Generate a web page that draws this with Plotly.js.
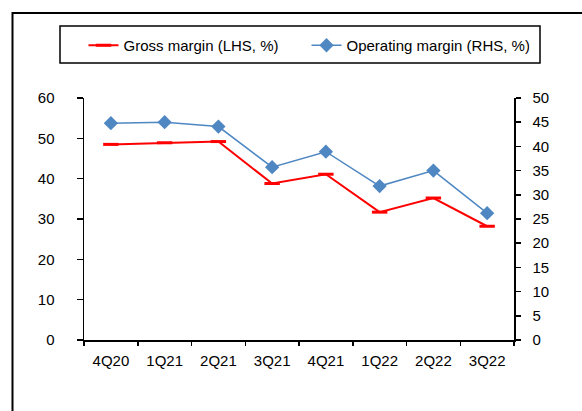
<!DOCTYPE html>
<html><head><meta charset="utf-8">
<script src="https://cdn.plot.ly/plotly-3.0.1.min.js"></script>
<style>html,body{margin:0;padding:0;background:#fff}#chart{width:582px;height:411px}</style>
</head><body><div id="chart"></div>
<script>
const categories = ["4Q20","1Q21","2Q21","3Q21","4Q21","1Q22","2Q22","3Q22"];
const grossMargin = [48.5, 48.9, 49.2, 38.8, 41.1, 31.7, 35.2, 28.2];
const operatingMargin = [44.8, 45.0, 44.1, 35.7, 38.9, 31.8, 35.0, 26.2];
const leftTicks = [0,10,20,30,40,50,60];
const rightTicks = [0,5,10,15,20,25,30,35,40,45,50];

const font = {family: "Liberation Sans, Arial, sans-serif", size: 15, color: "#000"};
const traces = [
  {x: categories, y: grossMargin, name: "Gross margin (LHS, %)", type: "scatter", mode: "lines+markers",
   line: {color: "#ff0000", width: 2}, marker: {symbol: "line-ew", size: 11, line: {color: "#ff0000", width: 3}},
   xaxis: "x", yaxis: "y"},
  {x: categories, y: operatingMargin, name: "Operating margin (RHS, %)", type: "scatter", mode: "lines+markers",
   line: {color: "#4f87c2", width: 1.5}, marker: {symbol: "diamond", size: 11, color: "#4f87c2"},
   xaxis: "x", yaxis: "y2"}
];
const pw = 430, ph = 242;
const px = v => (v - 84) / pw, py = v => (340 - v) / ph;
const layout = {
  width: 582, height: 411,
  margin: {l: 84, r: 68, t: 98, b: 71},
  paper_bgcolor: "#fff", plot_bgcolor: "#fff",
  font: font, showlegend: true,
  legend: {orientation: "h", x: px(83.5), xanchor: "left", y: py(29), yanchor: "top",
           bgcolor: "rgba(0,0,0,0)", font: font, entrywidth: 178, entrywidthmode: "pixels"},
  xaxis: {type: "category", categoryarray: categories, range: [-0.5, 7.5], tickson: "boundaries",
          ticks: "outside", ticklen: 4, tickwidth: 1.5, tickcolor: "#000", ticklabelstandoff: 6,
          showline: true, linecolor: "#000", linewidth: 1.5, showgrid: false, zeroline: false,
          tickfont: font, anchor: "y"},
  xaxis2: {overlaying: "x", anchor: "y", type: "linear", range: [-0.5, 7.5], tick0: -0.5, dtick: 1,
           ticks: "inside", ticklen: 7, tickwidth: 1.5, tickcolor: "#000", showticklabels: false,
           showline: false, showgrid: false, zeroline: false},
  xaxis3: {overlaying: "x", anchor: "y", side: "top", type: "linear", range: [-0.5, 7.5],
           ticks: "", showticklabels: false, showline: true, linecolor: "#888", linewidth: 1,
           showgrid: false, zeroline: false},
  yaxis: {range: [0, 60], tickvals: leftTicks, ticks: "outside", ticklen: 6, tickwidth: 1.5, tickcolor: "#000",
          ticklabelstandoff: 19,
          showline: true, linecolor: "#000", linewidth: 1.5, showgrid: false, zeroline: false,
          tickfont: font, anchor: "x"},
  yaxis2: {overlaying: "y", side: "right", range: [0, 50], tickvals: rightTicks, ticks: "outside", ticklen: 5,
           tickwidth: 1.5, tickcolor: "#000", ticklabelstandoff: 9, showline: true, linecolor: "#000", linewidth: 1.5,
           showgrid: false, zeroline: false, tickfont: font, anchor: "x"},
  yaxis3: {overlaying: "y", side: "left", range: [0, 60], tickvals: leftTicks, ticks: "inside", ticklen: 5,
           tickwidth: 1.5, tickcolor: "#000", showticklabels: false, showline: false, showgrid: false,
           zeroline: false, anchor: "x"},
  yaxis4: {overlaying: "y", side: "right", range: [0, 50], tickvals: rightTicks, ticks: "inside", ticklen: 7,
           tickwidth: 1.5, tickcolor: "#000", showticklabels: false, showline: false, showgrid: false,
           zeroline: false, anchor: "x"},
  shapes: [
    {type: "rect", xref: "paper", yref: "paper", x0: px(60), x1: px(540), y0: py(63), y1: py(26),
     line: {color: "#000", width: 1.5}, fillcolor: "rgba(0,0,0,0)", layer: "below"},
    {type: "path", xref: "paper", yref: "paper",
     path: `M ${px(12.5)} ${py(420)} L ${px(12.5)} ${py(13)} L ${px(600)} ${py(13)}`,
     line: {color: "#000", width: 2}}
  ]
};
Plotly.newPlot("chart", traces, layout, {staticPlot: true, displayModeBar: false});
</script></body></html>
